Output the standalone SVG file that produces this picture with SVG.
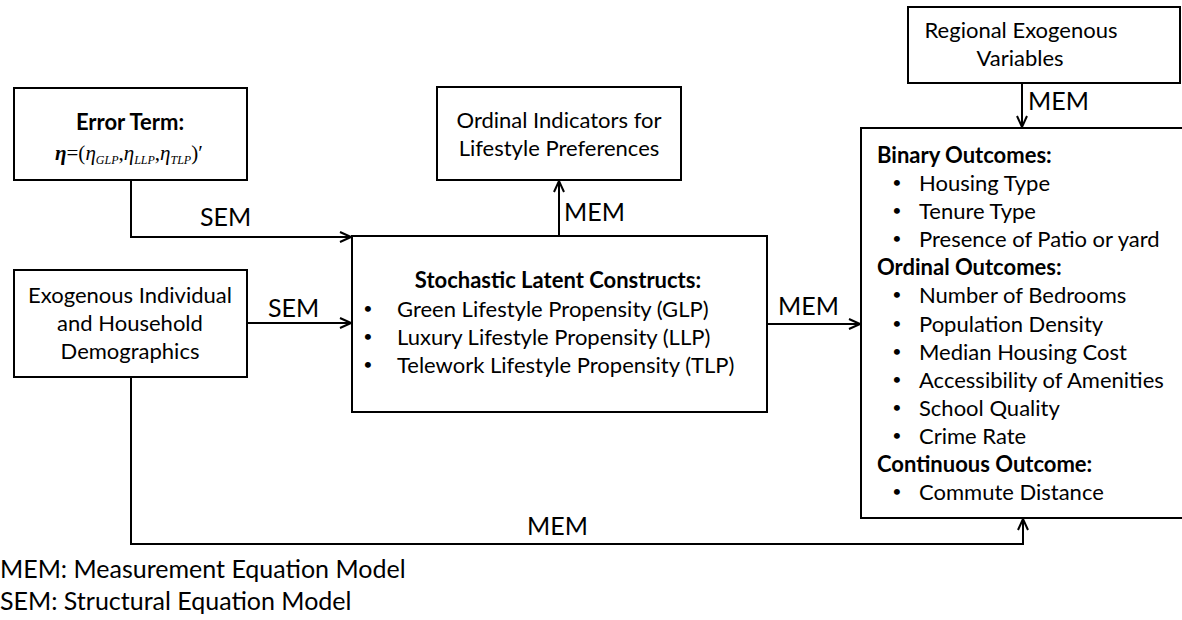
<svg xmlns="http://www.w3.org/2000/svg" width="1182" height="620" viewBox="0 0 1182 620">
<style>
  .box { fill: #ffffff; stroke: #000000; stroke-width: 2; }
  .t { font-family: Lato, "Liberation Sans", sans-serif; font-size: 22px; fill: #000000; }
  .b { font-weight: bold; }
  .bul { font-family: Lato, "Liberation Sans", sans-serif; font-size: 16px; fill: #000000; text-anchor: middle; }
  .lbl { font-family: Lato, "Liberation Sans", sans-serif; font-size: 25px; fill: #000000; }
  .c { text-anchor: middle; }
  .conn { fill: none; stroke: #000000; stroke-width: 2; marker-end: url(#arr); }
  .math { font-family: "Liberation Serif", serif; font-size: 21px; font-style: italic; fill: #000000; }
</style>
<defs>
  <marker id="arr" markerUnits="userSpaceOnUse" markerWidth="14" markerHeight="14" refX="12" refY="6" orient="auto">
    <path d="M1,1 L12,6 L1,11" fill="none" stroke="#000000" stroke-width="2"/>
  </marker>
</defs>
<rect width="1182" height="620" fill="#ffffff"/>

<g id="connectors">
  <path class="conn" d="M131,180 V237 H351"/>
  <path class="conn" d="M247,323 H351"/>
  <path class="conn" d="M559,236 V181"/>
  <path class="conn" d="M767,324 H860"/>
  <path class="conn" d="M1022,83 V127"/>
  <path class="conn" d="M131,377 V544 H1023 V519"/>
  <text class="lbl" x="200" y="226">SEM</text>
  <text class="lbl" x="268" y="317">SEM</text>
  <text class="lbl" x="564" y="221">MEM</text>
  <text class="lbl" x="778" y="315">MEM</text>
  <text class="lbl" x="1028" y="110">MEM</text>
  <text class="lbl" x="527" y="535">MEM</text>
</g>

<g id="error-term">
  <rect class="box" x="14" y="88" width="233" height="92"/>
  <text class="t b c" x="130" y="130">Error Term:</text>
  <text class="math" x="55" y="160"><tspan font-weight="bold">η</tspan><tspan font-style="normal">=(</tspan>η<tspan font-size="12" dy="4">GLP</tspan><tspan dy="-4" font-style="normal">,</tspan>η<tspan font-size="12" dy="4">LLP</tspan><tspan dy="-4" font-style="normal">,</tspan>η<tspan font-size="12" dy="4">TLP</tspan><tspan dy="-4" font-style="normal">)′</tspan></text>
</g>

<g id="exogenous-demographics">
  <rect class="box" x="14" y="270" width="233" height="107"/>
  <text class="t c" x="130" y="303">Exogenous Individual</text>
  <text class="t c" x="130" y="331">and Household</text>
  <text class="t c" x="130" y="359">Demographics</text>
</g>

<g id="ordinal-indicators">
  <rect class="box" x="437" y="87" width="244" height="93"/>
  <text class="t c" x="559" y="128">Ordinal Indicators for</text>
  <text class="t c" x="559" y="156">Lifestyle Preferences</text>
</g>

<g id="latent-constructs">
  <rect class="box" x="352" y="236" width="415" height="176"/>
  <text class="t b c" x="558" y="288">Stochastic Latent Constructs:</text>
  <text class="bul" x="368" y="314">•</text>
  <text class="t" x="397" y="317">Green Lifestyle Propensity (GLP)</text>
  <text class="bul" x="368" y="342">•</text>
  <text class="t" x="397" y="345">Luxury Lifestyle Propensity (LLP)</text>
  <text class="bul" x="368" y="370">•</text>
  <text class="t" x="397" y="373">Telework Lifestyle Propensity (TLP)</text>
</g>

<g id="regional-variables">
  <rect class="box" x="908" y="7" width="272" height="76"/>
  <text class="t c" x="1021" y="38">Regional Exogenous</text>
  <text class="t c" x="1020" y="66">Variables</text>
</g>

<g id="outcomes">
  <rect class="box" x="861" y="128" width="340" height="390"/>
  <text class="t b" x="877" y="163">Binary Outcomes:</text>
  <text class="bul" x="897" y="188">•</text><text class="t" x="919" y="191">Housing Type</text>
  <text class="bul" x="897" y="216">•</text><text class="t" x="919" y="219">Tenure Type</text>
  <text class="bul" x="897" y="244">•</text><text class="t" x="919" y="247">Presence of Patio or yard</text>
  <text class="t b" x="877" y="275">Ordinal Outcomes:</text>
  <text class="bul" x="897" y="300">•</text><text class="t" x="919" y="303">Number of Bedrooms</text>
  <text class="bul" x="897" y="329">•</text><text class="t" x="919" y="332">Population Density</text>
  <text class="bul" x="897" y="357">•</text><text class="t" x="919" y="360">Median Housing Cost</text>
  <text class="bul" x="897" y="385">•</text><text class="t" x="919" y="388">Accessibility of Amenities</text>
  <text class="bul" x="897" y="413">•</text><text class="t" x="919" y="416">School Quality</text>
  <text class="bul" x="897" y="441">•</text><text class="t" x="919" y="444">Crime Rate</text>
  <text class="t b" x="877" y="472">Continuous Outcome:</text>
  <text class="bul" x="897" y="497">•</text><text class="t" x="919" y="500">Commute Distance</text>
</g>

<g id="legend">
  <text class="lbl" x="0" y="578">MEM: Measurement Equation Model</text>
  <text class="lbl" x="0" y="610">SEM: Structural Equation Model</text>
</g>
</svg>
